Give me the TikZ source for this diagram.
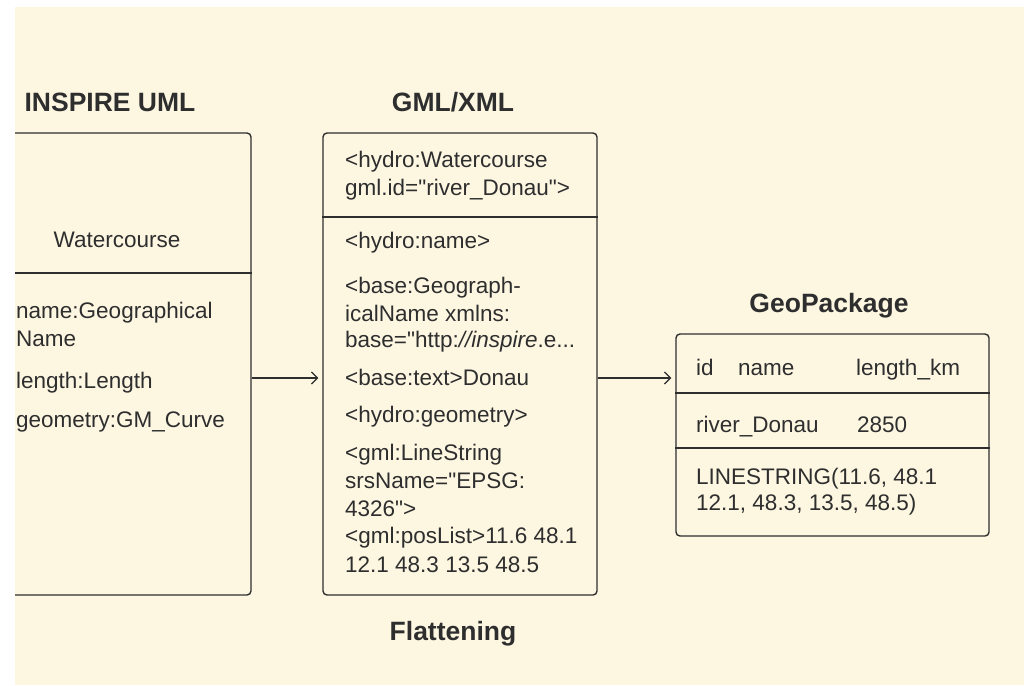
\documentclass[tikz,border=0pt]{standalone}
\usepackage{fontspec}
\setmainfont{Liberation Sans}[Ligatures=TeXOff]
\usetikzlibrary{arrows.meta}
\definecolor{paper}{HTML}{FDF7E2}
\definecolor{ink}{HTML}{2E2E2E}
\begin{document}
\begin{tikzpicture}[x=1pt,y=-1pt,
  panel/.style={draw=ink, line width=1.4pt, rounded corners=4pt, inner sep=0pt},
  rule/.style={draw=ink, line width=1.3pt},
  body/.style={font=\fontsize{22.5}{26}\selectfont, text=ink, anchor=base west, inner sep=0pt},
  centred/.style={body, anchor=base},
  heading/.style={font=\bfseries\fontsize{26.5}{30}\selectfont, text=ink, anchor=base, inner sep=0pt},
  flow/.style={draw=ink, line width=1.2pt, shorten >=4pt, -{Straight Barb[length=6pt,width=12pt]}}]
\useasboundingbox (0,0) rectangle (1024,685);
\fill[paper] (0,0) rectangle (1024,685);

% headings
\node[heading] (hUml) at (110,111) {INSPIRE UML};
\node[heading] (hGml) at (453,111) {GML/XML};
\node[heading] (hGpkg) at (829,312) {GeoPackage};
\node[heading] (hFlat) at (453,640) {Flattening};

% UML class
\node[panel, minimum width=268pt, minimum height=462pt] (uml) at (117,364) {};
\draw[rule] (uml.west |- 0,273) -- (uml.east |- 0,273);
\node[centred] (umlName) at (117,247) {Watercourse};
\node[body] (a1) at (16,318) {name:Geographical};
\node[body] (a2) at (16,346) {Name};
\node[body] (a3) at (16,388) {length:Length};
\node[body] (a4) at (16,427) {geometry:GM\_Curve};

% GML encoding
\node[panel, minimum width=274pt, minimum height=462pt] (gml) at (460,364) {};
\draw[rule] (gml.west |- 0,217) -- (gml.east |- 0,217);
\node[body] (g1) at (345,167) {<hydro:Watercourse};
\node[body] (g2) at (345,195) {gml.id="river\_Donau">};
\node[body] (g3) at (345,248) {<hydro:name>};
\node[body] (g4) at (345,293) {<base:Geograph-};
\node[body] (g5) at (345,321) {icalName xmlns:};
\node[body] (g6) at (345,347) {base="http:\textit{//inspire}.e...};
\node[body] (g7) at (345,385) {<base:text>Donau};
\node[body] (g8) at (345,422) {<hydro:geometry>};
\node[body] (g9) at (345,460) {<gml:LineString};
\node[body] (g10) at (345,488) {srsName="EPSG:};
\node[body] (g11) at (345,516) {4326">};
\node[body] (g12) at (345,543) {<gml:posList>11.6 48.1};
\node[body] (g13) at (345,572) {12.1 48.3 13.5 48.5};

% GeoPackage table
\node[panel, minimum width=313pt, minimum height=202pt] (gpkg) at (832.5,435) {};
\draw[rule] (gpkg.west |- 0,393) -- (gpkg.east |- 0,393);
\draw[rule] (gpkg.west |- 0,448) -- (gpkg.east |- 0,448);
\node[body] (c1) at (696,375) {id};
\node[body] (c2) at (738,375) {name};
\node[body] (c3) at (856,375) {length\_km};
\node[body] (r1) at (696,432) {river\_Donau};
\node[body] (r2) at (857,432) {2850};
\node[body] (w1) at (696,484) {LINESTRING(11.6, 48.1};
\node[body] (w2) at (696,510) {12.1, 48.3, 13.5, 48.5)};

% transformation arrows
\draw[flow] (uml.east |- 0,378) -- (gml.west |- 0,378);
\draw[flow] (gml.east |- 0,378) -- (gpkg.west |- 0,378);

% uncovered margin along the top and left
\fill[white] (0,0) rectangle (15,685);
\fill[white] (0,0) rectangle (1024,7);
\end{tikzpicture}
\end{document}
